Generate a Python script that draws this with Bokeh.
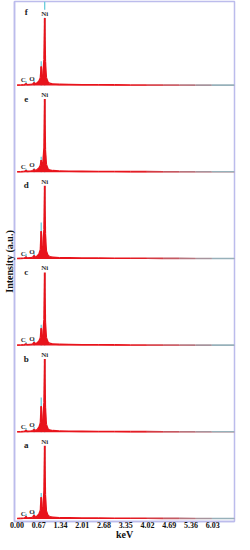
import numpy as np
from bokeh.plotting import figure
from bokeh.models import Range1d, FixedTicker, NumeralTickFormatter
from bokeh.core.properties import value
from bokeh.embed import file_html
from bokeh.resources import INLINE

# ---- data ----
energy = [0.00, 0.10, 0.20, 0.25, 0.277, 0.30, 0.40, 0.48, 0.525, 0.56, 0.62, 0.68,
          0.72, 0.743, 0.77, 0.80, 0.83, 0.851, 0.87, 0.90, 0.95, 1.00, 1.10, 1.30,
          1.60, 2.00, 2.50, 3.00, 3.50, 4.00, 4.50, 5.00, 5.50, 6.00, 6.70]

panel_names = ["a", "b", "c", "d", "e", "f"]

spec_a = [0.005, 0.006, 0.008, 0.012, 0.030, 0.010, 0.012, 0.016, 0.045, 0.018, 0.030, 0.060,
          0.10, 0.25, 0.11, 0.14, 0.32, 0.86, 0.28, 0.09, 0.04, 0.025, 0.018, 0.014,
          0.012, 0.010, 0.009, 0.008, 0.007, 0.007, 0.006, 0.006, 0.005, 0.005, 0.005]
spec_b = [0.005, 0.006, 0.008, 0.012, 0.025, 0.010, 0.012, 0.016, 0.035, 0.018, 0.030, 0.060,
          0.11, 0.30, 0.12, 0.15, 0.34, 0.86, 0.29, 0.09, 0.04, 0.025, 0.018, 0.014,
          0.012, 0.010, 0.009, 0.008, 0.007, 0.007, 0.006, 0.006, 0.005, 0.005, 0.005]
spec_c = [0.005, 0.006, 0.008, 0.012, 0.022, 0.010, 0.012, 0.016, 0.040, 0.018, 0.030, 0.055,
          0.09, 0.20, 0.10, 0.13, 0.30, 0.87, 0.27, 0.09, 0.04, 0.025, 0.018, 0.014,
          0.012, 0.010, 0.009, 0.008, 0.007, 0.007, 0.006, 0.006, 0.005, 0.005, 0.005]
spec_d = [0.005, 0.006, 0.008, 0.012, 0.025, 0.010, 0.012, 0.016, 0.040, 0.018, 0.030, 0.060,
          0.11, 0.32, 0.12, 0.15, 0.34, 0.86, 0.29, 0.09, 0.04, 0.025, 0.018, 0.014,
          0.012, 0.010, 0.009, 0.008, 0.007, 0.007, 0.006, 0.006, 0.005, 0.005, 0.005]
spec_e = [0.005, 0.006, 0.008, 0.012, 0.022, 0.010, 0.012, 0.016, 0.035, 0.018, 0.030, 0.050,
          0.08, 0.14, 0.09, 0.12, 0.28, 0.88, 0.26, 0.09, 0.04, 0.025, 0.018, 0.014,
          0.012, 0.010, 0.009, 0.008, 0.007, 0.007, 0.006, 0.006, 0.005, 0.005, 0.005]
spec_f = [0.005, 0.006, 0.008, 0.012, 0.025, 0.010, 0.012, 0.016, 0.035, 0.018, 0.030, 0.055,
          0.09, 0.22, 0.10, 0.13, 0.30, 0.78, 0.28, 0.09, 0.04, 0.025, 0.018, 0.014,
          0.012, 0.010, 0.009, 0.008, 0.007, 0.007, 0.006, 0.006, 0.005, 0.005, 0.005]
spectra = [spec_a, spec_b, spec_c, spec_d, spec_e, spec_f]

# overlay trace (cyan) peak tops: C, O, Ni-Ll, Ni-La
peak_energy = [0.277, 0.525, 0.743, 0.851]
cyan_a = [0.06, 0.08, 0.30, 0.90]
cyan_b = [0.05, 0.06, 0.40, 0.90]
cyan_c = [0.04, 0.06, 0.24, 0.90]
cyan_d = [0.06, 0.07, 0.42, 0.90]
cyan_e = [0.04, 0.05, 0.18, 0.90]
cyan_f = [0.05, 0.06, 0.28, 0.97]
cyan_tops = [cyan_a, cyan_b, cyan_c, cyan_d, cyan_e, cyan_f]

element_labels = ["C", "O", "Ni"]
element_label_energy = [0.19, 0.46, 0.851]

tick_values = [0.00, 0.67, 1.34, 2.01, 2.68, 3.35, 4.02, 4.69, 5.36, 6.03]

# ---- figure ----
FONT = value("Liberation Serif")
LAV = "#bcbcec"
RED = "#e8141c"

p = figure(width=236, height=542, output_backend="svg", toolbar_location=None,
           x_range=Range1d(-0.08, 6.70), y_range=Range1d(0, 6),
           min_border_left=10, min_border_right=2, min_border_top=1, min_border_bottom=0)
p.xgrid.visible = False
p.ygrid.visible = False
p.outline_line_color = LAV
p.outline_line_width = 1.5
p.background_fill_color = "white"
p.border_fill_color = "white"

base_off = 0.03


def trace_color(e):
    if e <= 3.3:
        return RED
    t = min(1.0, (e - 3.3) / 3.3)
    c0 = np.array([232, 20, 28])
    c1 = np.array([134, 212, 222])
    c = (c0 * (1 - t) + c1 * t).astype(int)
    return "#%02x%02x%02x" % tuple(c)


E = np.array(energy)
for i, (name, spec, ctop) in enumerate(zip(panel_names, spectra, cyan_tops)):
    base = i + base_off
    s = np.array(spec)
    # cyan overlay spikes
    p.segment(x0=peak_energy, y0=[base] * len(peak_energy), x1=peak_energy,
              y1=[base + v for v in ctop], line_color="#5cc8d8", line_width=1.2)
    # red filled spectrum
    p.varea(x=E, y1=np.full_like(E, base), y2=base + s, fill_color=RED)
    # trace line with colour fade
    p.segment(x0=E[:-1], y0=base + s[:-1], x1=E[1:], y1=base + s[1:],
              line_color=[trace_color(e) for e in E[:-1]], line_width=1.6)
    # labels
    p.text(x=[0.28], y=[i + 0.88], text=[name], text_font=FONT, text_font_style="bold",
           text_font_size="9px", text_align="center", text_baseline="middle", text_color="#222222")
    p.text(x=element_label_energy[:2], y=[base + 0.06, base + 0.08], text=element_labels[:2],
           text_font=FONT, text_font_style="bold", text_font_size="7px",
           text_align="center", text_baseline="middle", text_color="#333333")
    p.text(x=[element_label_energy[2]], y=[i + (0.86 if i == 5 else 0.92)], text=[element_labels[2]],
           text_font=FONT, text_font_style="bold", text_font_size="7px",
           text_align="center", text_baseline="middle", text_color="#333333",
           background_fill_color="white")

# axes
p.xaxis.ticker = FixedTicker(ticks=tick_values)
p.xaxis.formatter = NumeralTickFormatter(format="0.00")
p.xaxis.minor_tick_line_color = None
p.xaxis.major_tick_line_color = None
p.xaxis.major_tick_out = 0
p.xaxis.major_tick_in = 0
p.xaxis.axis_line_color = LAV
p.xaxis.axis_line_width = 1.5
p.xaxis.major_label_text_font = "Liberation Serif"
p.xaxis.major_label_text_font_style = "bold"
p.xaxis.major_label_text_font_size = "8px"
p.xaxis.major_label_text_color = "#111111"
p.xaxis.major_label_standoff = 0
p.xaxis.axis_label = "keV"
p.xaxis.axis_label_text_font = "Liberation Serif"
p.xaxis.axis_label_text_font_style = "bold"
p.xaxis.axis_label_text_font_size = "10px"
p.xaxis.axis_label_text_color = "#111111"
p.xaxis.axis_label_standoff = -2

p.yaxis.ticker = FixedTicker(ticks=[])
p.yaxis.minor_tick_line_color = None
p.yaxis.major_tick_line_color = None
p.yaxis.major_tick_out = 0
p.yaxis.major_tick_in = 0
p.yaxis.axis_line_color = LAV
p.yaxis.axis_line_width = 1.5
p.yaxis.major_label_text_font_size = "0px"
p.yaxis.axis_label = "Intensity (a.u.)"
p.yaxis.axis_label_text_font = "Liberation Serif"
p.yaxis.axis_label_text_font_style = "bold"
p.yaxis.axis_label_text_font_size = "10px"
p.yaxis.axis_label_text_color = "#111111"
p.yaxis.axis_label_standoff = 0

open("out.html", "w").write(file_html(p, INLINE))
